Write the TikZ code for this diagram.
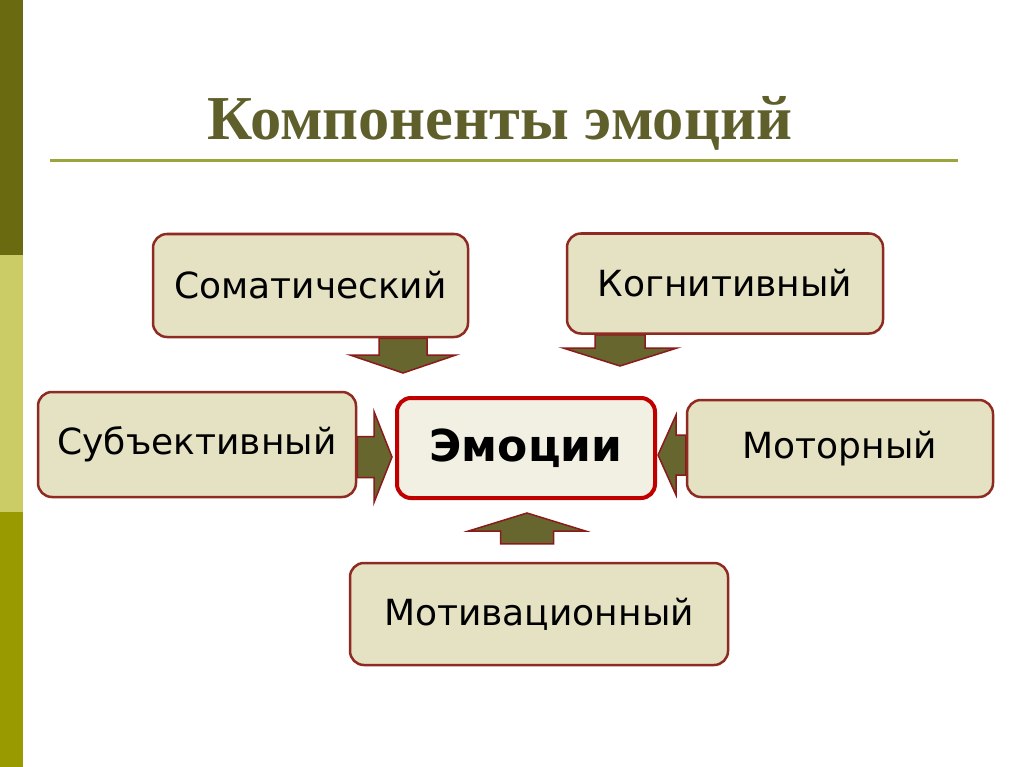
\documentclass[tikz,border=0pt]{standalone}
\usepackage{fontspec}
\setmainfont{DejaVu Sans}
\newfontfamily\titlefont{Liberation Serif}
\usetikzlibrary{calc}
\pgfdeclarelayer{background}
\pgfsetlayers{background,main}

\definecolor{bardark}{HTML}{6A6A10}
\definecolor{barlight}{HTML}{CCCC66}
\definecolor{bargreen}{HTML}{999900}
\definecolor{titleolive}{HTML}{5F5F2B}
\definecolor{ruleolive}{HTML}{9BA53C}
\definecolor{boxfill}{HTML}{E4E2C2}
\definecolor{boxred}{HTML}{8E2A22}
\definecolor{corefill}{HTML}{F1F0E3}
\definecolor{corered}{HTML}{C00000}
\definecolor{arrowolive}{HTML}{66662E}
\definecolor{arrowred}{HTML}{8B1A1A}

% block arrow: start, tip, half shaft width, half head width
\newcommand{\blockarrow}[4]{%
  \coordinate (ah) at ($(#2)!18pt!(#1)$);
  \filldraw[arrowbody] ($(#1)!#3!90:(#2)$) -- ($(ah)!#3!90:(#2)$) -- ($(ah)!#4!90:(#2)$) -- (#2)
    -- ($(ah)!#4!-90:(#2)$) -- ($(ah)!#3!-90:(#2)$) -- ($(#1)!#3!-90:(#2)$) -- cycle;
}

\begin{document}
\begin{tikzpicture}[x=1pt,y=-1pt,
compbox/.style={rectangle, rounded corners=14pt, draw=boxred, fill=boxfill, line width=2.5pt, inner sep=0pt, font=\fontsize{36}{40}\selectfont},
corebox/.style={compbox, draw=corered, fill=corefill, line width=4pt, font=\fontsize{44}{48}\selectfont\bfseries},
arrowbody/.style={fill=arrowolive, draw=arrowred, line width=1.5pt, line join=miter},
]
\useasboundingbox (0,0) rectangle (1024,767);

%Title
\node[font=\titlefont\bfseries\fontsize{62.5}{66}\selectfont, text=titleolive, anchor=base, inner sep=0pt] (title) at (500,140) {Компоненты эмоций};
\draw[ruleolive, line width=2.5pt] (50,160.5) -- (958,160.5);

%Nodes
\node[compbox, minimum width=315pt, minimum height=103pt] (soma)  at (310.5,285.5) {Соматический};
\node[compbox, minimum width=316pt, minimum height=100pt] (kogn)  at (725,283.5)   {Когнитивный};
\node[compbox, minimum width=318pt, minimum height=105pt] (subj)  at (197,444.5)   {Субъективный};
\node[corebox, minimum width=258pt, minimum height=100pt] (emo)   at (526,448)     {Эмоции};
\node[compbox, minimum width=306pt, minimum height=97pt]  (motor) at (840,448.5)   {Моторный};
\node[compbox, minimum width=378pt, minimum height=102pt] (motiv) at (539,614)     {Мотивационный};

%Arrows
\coordinate (tsoma)  at (403,373);
\coordinate (tkogn)  at (620,366);
\coordinate (tsubj)  at (392,457);
\coordinate (tmotor) at (658,455);
\coordinate (tmotiv) at (527,513);
\coordinate (ssoma)  at (soma.south -| tsoma);
\coordinate (skogn)  at (kogn.south -| tkogn);
\coordinate (ssubj)  at (subj.east |- tsubj);
\coordinate (smotor) at (motor.west |- tmotor);
\coordinate (smotiv) at ($(motiv.north -| tmotiv)+(0,-18)$);
\begin{pgfonlayer}{background}
\fill[white] (0,0) rectangle (1024,767);
%Side bar
\fill[bardark] (0,0) rectangle (23,255);
\fill[barlight] (0,255) rectangle (23,512);
\fill[bargreen] (0,512) rectangle (23,767);
\blockarrow{ssoma}{tsoma}{24pt}{53pt}
\blockarrow{skogn}{tkogn}{25pt}{57pt}
\blockarrow{ssubj}{tsubj}{20.5pt}{45.5pt}
\blockarrow{smotor}{tmotor}{20pt}{40pt}
\blockarrow{smotiv}{tmotiv}{26.5pt}{58.5pt}
\end{pgfonlayer}
\end{tikzpicture}
\end{document}
